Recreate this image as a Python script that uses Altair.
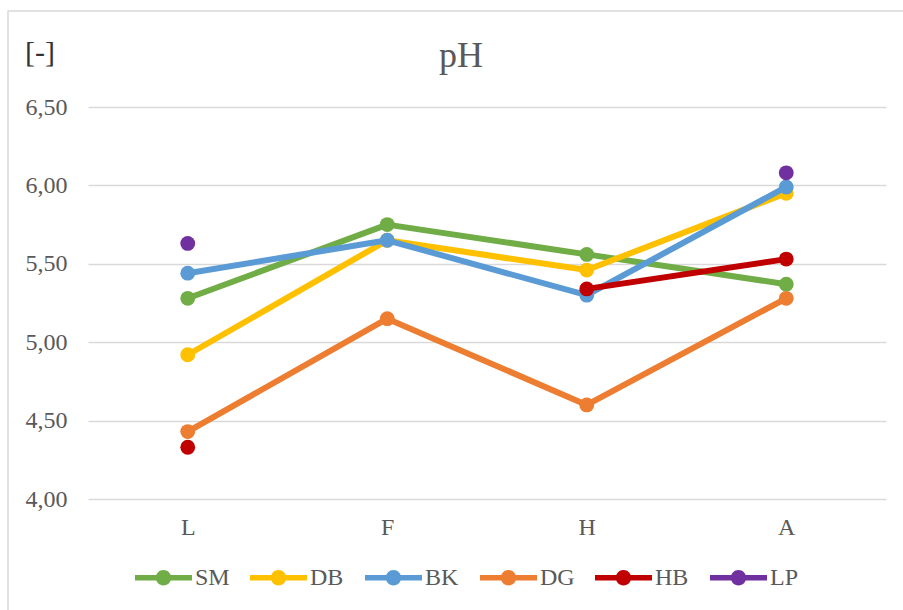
import altair as alt
import pandas as pd

# pH by stage for each sample series
stages = ["L", "F", "H", "A"]
series = ["SM", "DB", "BK", "DG", "HB", "LP"]
colors = ["#70AD47", "#FFC000", "#5B9BD5", "#ED7D31", "#C00000", "#7030A0"]

sm = [5.28, 5.75, 5.56, 5.37]
db = [4.92, 5.65, 5.46, 5.95]
bk = [5.44, 5.65, 5.30, 5.99]
dg = [4.43, 5.15, 4.60, 5.28]
hb = [4.33, None, 5.34, 5.53]
lp = [5.63, None, None, 6.08]

values = {"SM": sm, "DB": db, "BK": bk, "DG": dg, "HB": hb, "LP": lp}

rows = []
for s in series:
    for st, v in zip(stages, values[s]):
        rows.append({"serie": s, "stage": st, "ph": v})
df = pd.DataFrame(rows)

FONT = "Liberation Serif"
GREY = "#595959"

W, H = 798, 392
PAD = {"left": 88, "top": 107, "right": 17, "bottom": 111}

# legend symbol: short thick line with a dot in the middle
sym = ("M-1,-0.1H1V0.1H-1Z "
       "M0.27,0A0.27,0.27 0 1,1 -0.27,0A0.27,0.27 0 1,1 0.27,0Z")

x_enc = alt.X(
    "stage:N",
    sort=stages,
    scale=alt.Scale(type="point", padding=0.5),
    axis=alt.Axis(
        title=None, domain=False, ticks=False, grid=False, labelAngle=0,
        labelFont=FONT, labelFontSize=24, labelColor=GREY, labelPadding=16,
    ),
)
y_enc = alt.Y(
    "ph:Q",
    scale=alt.Scale(domain=[4.0, 6.5], nice=False, zero=False),
    axis=alt.Axis(
        title=None, domain=False, ticks=False,
        values=[4.0, 4.5, 5.0, 5.5, 6.0, 6.5],
        labelExpr="replace(format(datum.value, '.2f'), '.', ',')",
        labelFont=FONT, labelFontSize=24, labelColor=GREY, labelPadding=21,
        gridColor="#D9D9D9", gridWidth=1.5,
    ),
)
legend = alt.Legend(
    title=None, orient="none", direction="horizontal", columns=6,
    legendX=47, legendY=442, gridAlign="all", columnPadding=20,
    symbolType=sym, symbolSize=3249, symbolStrokeWidth=0, symbolOpacity=1,
    labelFont=FONT, labelFontSize=24, labelColor=GREY, labelOffset=3,
)
color_enc = alt.Color("serie:N", scale=alt.Scale(domain=series, range=colors),
                      legend=legend)

layers = []

# outer chart frame
frame = alt.Chart(pd.DataFrame({"k": [0]})).mark_rect(
    fill="transparent", stroke="#D9D9D9", strokeWidth=1.5
).encode(
    x=alt.value(-80), y=alt.value(-96),
    x2=alt.value(W + 60), y2=alt.value(H + 150),
)
layers.append(frame)

for s, c in zip(series, colors):
    sub = alt.Chart(df).transform_filter(alt.datum.serie == s)
    line = sub.mark_line(color=c, strokeWidth=6, strokeCap="round",
                         strokeJoin="round").encode(x=x_enc, y=y_enc)
    pts = sub.mark_point(filled=True, size=220, opacity=1, shape="circle").encode(
        x=x_enc, y=y_enc, color=color_enc
    )
    layers += [line, pts]

title = alt.Chart(pd.DataFrame({"t": ["pH"]})).mark_text(
    font=FONT, fontSize=36, color=GREY, align="center", baseline="alphabetic"
).encode(text="t:N", x=alt.value(373), y=alt.value(-40))

unit = alt.Chart(pd.DataFrame({"t": ["[-]"]})).mark_text(
    font=FONT, fontSize=30, color="#333333", align="left", baseline="alphabetic"
).encode(text="t:N", x=alt.value(-63), y=alt.value(-45))

layers += [title, unit]

chart = alt.layer(*layers).properties(
    width=W, height=H, padding=PAD, autosize=alt.AutoSizeParams(type="none"),
    background="white",
).configure_view(stroke=None)

chart.save("out.html", embed_options={"renderer": "svg", "actions": False})
